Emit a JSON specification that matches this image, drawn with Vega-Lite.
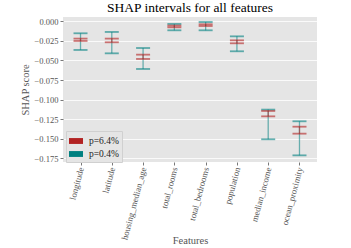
{
  "$schema": "https://vega.github.io/schema/vega-lite/v6.json",
  "autosize": "none",
  "width": 254,
  "height": 145,
  "padding": {"left": 63, "top": 17, "right": 34, "bottom": 86},
  "background": "white",
  "title": {"text": "SHAP intervals for all features", "font": "Liberation Serif", "fontSize": 13.5, "fontWeight": "normal", "color": "#000000", "offset": 3},
  "config": {
    "font": "Liberation Serif",
    "view": {"fill": "#E5E5E5", "stroke": null},
    "axis": {"labelFont": "Liberation Serif", "titleFont": "Liberation Serif", "labelColor": "#555555", "titleColor": "#555555", "titleFontWeight": "normal", "gridColor": "#FFFFFF", "gridWidth": 0.8, "domain": false, "tickColor": "#555555", "tickSize": 3, "tickWidth": 0.8, "labelOverlap": false},
    "legend": {"labelFont": "Liberation Serif", "labelFontSize": 9.5, "labelColor": "#222222", "symbolOpacity": 1}
  },
  "data": {"values": [
    {"feature": "longitude", "p": "p=0.4%", "lo": -0.0366, "hi": -0.0153},
    {"feature": "latitude", "p": "p=0.4%", "lo": -0.0409, "hi": -0.0136},
    {"feature": "housing_median_age", "p": "p=0.4%", "lo": -0.0609, "hi": -0.0341},
    {"feature": "total_rooms", "p": "p=0.4%", "lo": -0.0115, "hi": -0.0034},
    {"feature": "total_bedrooms", "p": "p=0.4%", "lo": -0.0115, "hi": -0.0009},
    {"feature": "population", "p": "p=0.4%", "lo": -0.0383, "hi": -0.0192},
    {"feature": "median_income", "p": "p=0.4%", "lo": -0.1507, "hi": -0.1128},
    {"feature": "ocean_proximity", "p": "p=0.4%", "lo": -0.1712, "hi": -0.1277},
    {"feature": "longitude", "p": "p=6.4%", "lo": -0.0251, "hi": -0.0221},
    {"feature": "latitude", "p": "p=6.4%", "lo": -0.0268, "hi": -0.0221},
    {"feature": "housing_median_age", "p": "p=6.4%", "lo": -0.0481, "hi": -0.0426},
    {"feature": "total_rooms", "p": "p=6.4%", "lo": -0.0077, "hi": -0.0055},
    {"feature": "total_bedrooms", "p": "p=6.4%", "lo": -0.0060, "hi": -0.0038},
    {"feature": "population", "p": "p=6.4%", "lo": -0.0281, "hi": -0.0243},
    {"feature": "median_income", "p": "p=6.4%", "lo": -0.1214, "hi": -0.1145},
    {"feature": "ocean_proximity", "p": "p=6.4%", "lo": -0.1435, "hi": -0.1346}
  ]},
  "encoding": {
    "x": {"field": "feature", "type": "nominal", "sort": null,
      "scale": {"type": "point", "padding": 0.56},
      "axis": {"title": "Features", "titleFontSize": 10.5, "titleY": 73, "labelAngle": -75, "labelFontSize": 8.8, "labelPadding": 2}}
  },
  "layer": [
    {
      "mark": {"type": "rule", "strokeWidth": 1.3, "strokeOpacity": 0.55},
      "encoding": {
        "y": {"field": "lo", "type": "quantitative",
          "scale": {"domain": [-0.1797, 0.0055], "nice": false, "zero": false},
          "axis": {"title": "SHAP score", "titleFontSize": 10.5, "titlePadding": 4, "values": [0, -0.025, -0.05, -0.075, -0.1, -0.125, -0.15, -0.175], "format": ".3f", "labelFontSize": 8.5, "labelPadding": 2, "labelOverlap": false}},
        "y2": {"field": "hi"},
        "color": {"field": "p", "type": "nominal", "scale": {"domain": ["p=6.4%", "p=0.4%"], "range": ["#B22222", "#008080"]},
          "legend": {"title": null, "orient": "none", "legendX": 3, "legendY": 114, "symbolType": "M-1,-0.42H1V0.42H-1Z", "symbolSize": 196, "symbolStrokeWidth": 0, "symbolOpacity": 1, "labelFont": "Liberation Serif", "labelFontSize": 9.5, "labelColor": "#222222", "fillColor": "#E5E5E5", "strokeColor": "#D0D0D0", "padding": 3, "rowPadding": 1, "labelOffset": 6}}
      }
    },
    {
      "transform": [{"fold": ["lo", "hi"], "as": ["bound", "value"]}],
      "mark": {"type": "tick", "size": 14, "thickness": 1.8, "fillOpacity": 0.6},
      "encoding": {
        "y": {"field": "value", "type": "quantitative",
          "scale": {"domain": [-0.1797, 0.0055], "nice": false, "zero": false},
          "axis": {"title": "SHAP score", "titleFontSize": 10.5, "titlePadding": 4, "values": [0, -0.025, -0.05, -0.075, -0.1, -0.125, -0.15, -0.175], "format": ".3f", "labelFontSize": 8.5, "labelPadding": 2, "labelOverlap": false}},
        "color": {"field": "p", "type": "nominal", "scale": {"domain": ["p=6.4%", "p=0.4%"], "range": ["#B22222", "#008080"]},
          "legend": {"title": null, "orient": "none", "legendX": 3, "legendY": 114, "symbolType": "M-1,-0.42H1V0.42H-1Z", "symbolSize": 196, "symbolStrokeWidth": 0, "symbolOpacity": 1, "labelFont": "Liberation Serif", "labelFontSize": 9.5, "labelColor": "#222222", "fillColor": "#E5E5E5", "strokeColor": "#D0D0D0", "padding": 3, "rowPadding": 1, "labelOffset": 6}}
      }
    }
  ]
}
